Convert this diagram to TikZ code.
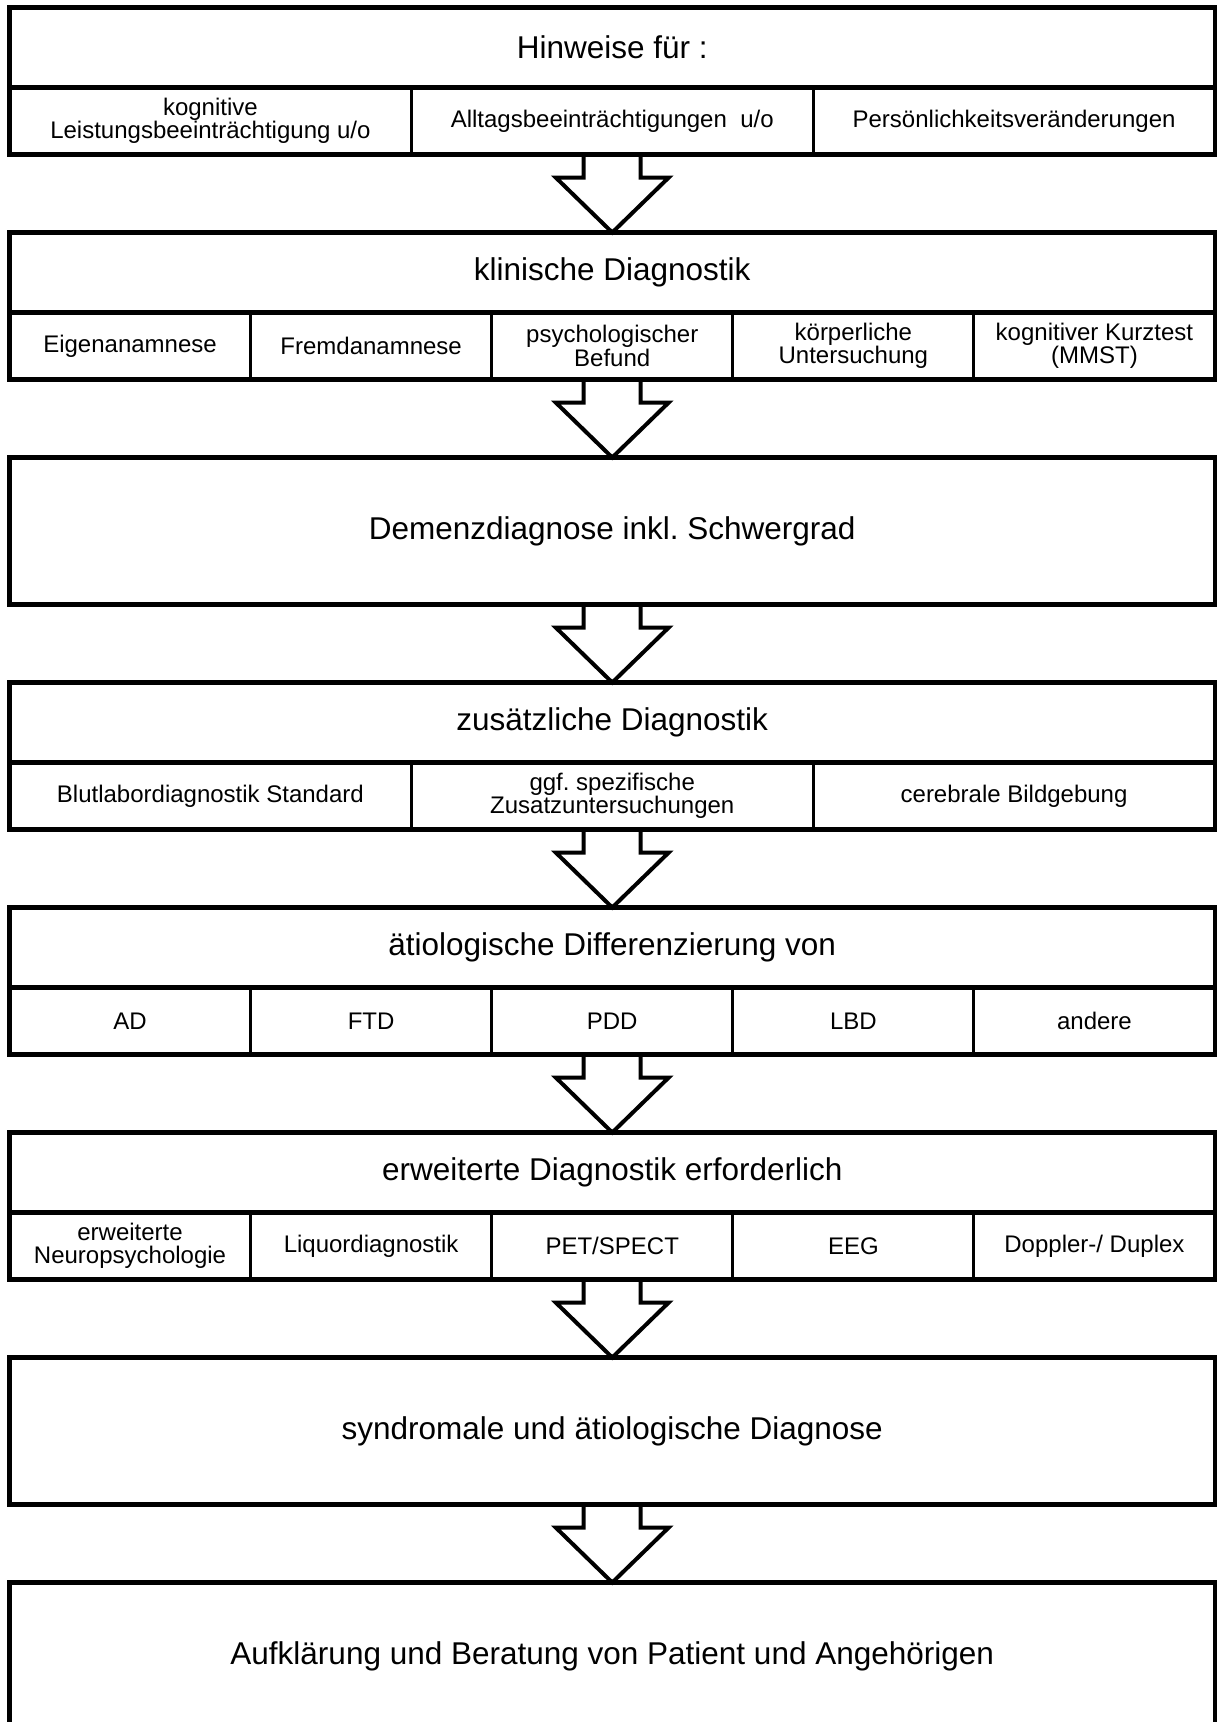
\documentclass[tikz,border=0pt]{standalone}
\usepackage{fontspec}
\setmainfont{Liberation Sans}
\usepackage{tikz}
\usetikzlibrary{positioning, calc, fit}
\frenchspacing
\newcommand{\headfont}{\fontsize{31.5}{36}\selectfont}
\newcommand{\cellfont}{\fontsize{24}{23.5}\selectfont}
\tikzset{
  headbox/.style={rectangle, draw=black, line width=4.5pt, outer sep=0pt,
    inner sep=0pt, minimum width=1205.5pt, minimum height=80pt,
    font=\headfont, align=center},
  bigbox/.style={headbox, minimum height=147pt},
  cell/.style={rectangle, draw=black, line width=3pt, outer sep=0pt,
    inner sep=0pt, minimum height=67pt, font=\cellfont, align=center},
  cellthree/.style={cell, minimum width=401.83pt},
  cellfive/.style={cell, minimum width=241.1pt},
  frame/.style={rectangle, draw=black, line width=4.5pt, inner sep=0pt, outer sep=0pt},
  hollow/.style={draw=black, line width=4pt, line join=miter}
}

\begin{document}
\begin{tikzpicture}[x=1pt, y=1pt]
  \useasboundingbox (-612.25,0) rectangle (603.75,-1722);

  % Hinweise
  \node[headbox, anchor=north] (t1) at (0,-7.5) {Hinweise für :};
  \node[cellthree, below right=0pt and 0pt of t1.south west] (c1a) {kognitive\\Leistungsbeeinträchtigung u/o};
  \node[cellthree, right=0pt of c1a] (c1b) {Alltagsbeeinträchtigungen\ \ u/o};
  \node[cellthree, right=0pt of c1b] (c1c) {Persönlichkeitsveränderungen};
  \node[frame, fit=(t1)(c1a)(c1c)] (f1) {};

  % klinische Diagnostik
  \node[headbox, below=78pt of f1] (t2) {klinische Diagnostik};
  \node[cellfive, below right=0pt and 0pt of t2.south west] (c2a) {Eigenanamnese};
  \node[cellfive, right=0pt of c2a] (c2b) {Fremdanamnese};
  \node[cellfive, right=0pt of c2b] (c2c) {psychologischer\\Befund};
  \node[cellfive, right=0pt of c2c] (c2d) {körperliche\\Untersuchung};
  \node[cellfive, right=0pt of c2d] (c2e) {kognitiver Kurztest\\(MMST)};
  \node[frame, fit=(t2)(c2a)(c2e)] (f2) {};

  % Demenzdiagnose
  \node[bigbox, below=78pt of f2] (d3) {Demenzdiagnose inkl. Schwergrad};

  % zusaetzliche Diagnostik
  \node[headbox, below=78pt of d3] (t4) {zusätzliche Diagnostik};
  \node[cellthree, below right=0pt and 0pt of t4.south west] (c4a) {Blutlabordiagnostik Standard};
  \node[cellthree, right=0pt of c4a] (c4b) {ggf. spezifische\\Zusatzuntersuchungen};
  \node[cellthree, right=0pt of c4b] (c4c) {cerebrale Bildgebung};
  \node[frame, fit=(t4)(c4a)(c4c)] (f4) {};

  % Differenzierung
  \node[headbox, below=78pt of f4] (t5) {ätiologische Differenzierung von};
  \node[cellfive, below right=0pt and 0pt of t5.south west] (c5a) {AD};
  \node[cellfive, right=0pt of c5a] (c5b) {FTD};
  \node[cellfive, right=0pt of c5b] (c5c) {PDD};
  \node[cellfive, right=0pt of c5c] (c5d) {LBD};
  \node[cellfive, right=0pt of c5d] (c5e) {andere};
  \node[frame, fit=(t5)(c5a)(c5e)] (f5) {};

  % erweiterte Diagnostik
  \node[headbox, below=78pt of f5] (t6) {erweiterte Diagnostik erforderlich};
  \node[cellfive, below right=0pt and 0pt of t6.south west] (c6a) {erweiterte\\Neuropsychologie};
  \node[cellfive, right=0pt of c6a] (c6b) {Liquordiagnostik};
  \node[cellfive, right=0pt of c6b] (c6c) {PET/SPECT};
  \node[cellfive, right=0pt of c6c] (c6d) {EEG};
  \node[cellfive, right=0pt of c6d] (c6e) {Doppler-/ Duplex};
  \node[frame, fit=(t6)(c6a)(c6e)] (f6) {};

  % Diagnose und Beratung
  \node[bigbox, below=78pt of f6] (d7) {syndromale und ätiologische Diagnose};
  \node[bigbox, below=78pt of d7] (d8) {Aufklärung und Beratung von Patient und Angehörigen};

  % hollow arrows
  \draw[hollow] ($(f1.south)+(-28.5,0)$) -- ($(t2.north)+(-28.5,55)$) -- ($(t2.north)+(-56.5,55)$) -- (t2.north) -- ($(t2.north)+(56.5,55)$) -- ($(t2.north)+(28.5,55)$) -- ($(f1.south)+(28.5,0)$);
  \draw[hollow] ($(f2.south)+(-28.5,0)$) -- ($(d3.north)+(-28.5,55)$) -- ($(d3.north)+(-56.5,55)$) -- (d3.north) -- ($(d3.north)+(56.5,55)$) -- ($(d3.north)+(28.5,55)$) -- ($(f2.south)+(28.5,0)$);
  \draw[hollow] ($(d3.south)+(-28.5,0)$) -- ($(t4.north)+(-28.5,55)$) -- ($(t4.north)+(-56.5,55)$) -- (t4.north) -- ($(t4.north)+(56.5,55)$) -- ($(t4.north)+(28.5,55)$) -- ($(d3.south)+(28.5,0)$);
  \draw[hollow] ($(f4.south)+(-28.5,0)$) -- ($(t5.north)+(-28.5,55)$) -- ($(t5.north)+(-56.5,55)$) -- (t5.north) -- ($(t5.north)+(56.5,55)$) -- ($(t5.north)+(28.5,55)$) -- ($(f4.south)+(28.5,0)$);
  \draw[hollow] ($(f5.south)+(-28.5,0)$) -- ($(t6.north)+(-28.5,55)$) -- ($(t6.north)+(-56.5,55)$) -- (t6.north) -- ($(t6.north)+(56.5,55)$) -- ($(t6.north)+(28.5,55)$) -- ($(f5.south)+(28.5,0)$);
  \draw[hollow] ($(f6.south)+(-28.5,0)$) -- ($(d7.north)+(-28.5,55)$) -- ($(d7.north)+(-56.5,55)$) -- (d7.north) -- ($(d7.north)+(56.5,55)$) -- ($(d7.north)+(28.5,55)$) -- ($(f6.south)+(28.5,0)$);
  \draw[hollow] ($(d7.south)+(-28.5,0)$) -- ($(d8.north)+(-28.5,55)$) -- ($(d8.north)+(-56.5,55)$) -- (d8.north) -- ($(d8.north)+(56.5,55)$) -- ($(d8.north)+(28.5,55)$) -- ($(d7.south)+(28.5,0)$);
\end{tikzpicture}
\end{document}
